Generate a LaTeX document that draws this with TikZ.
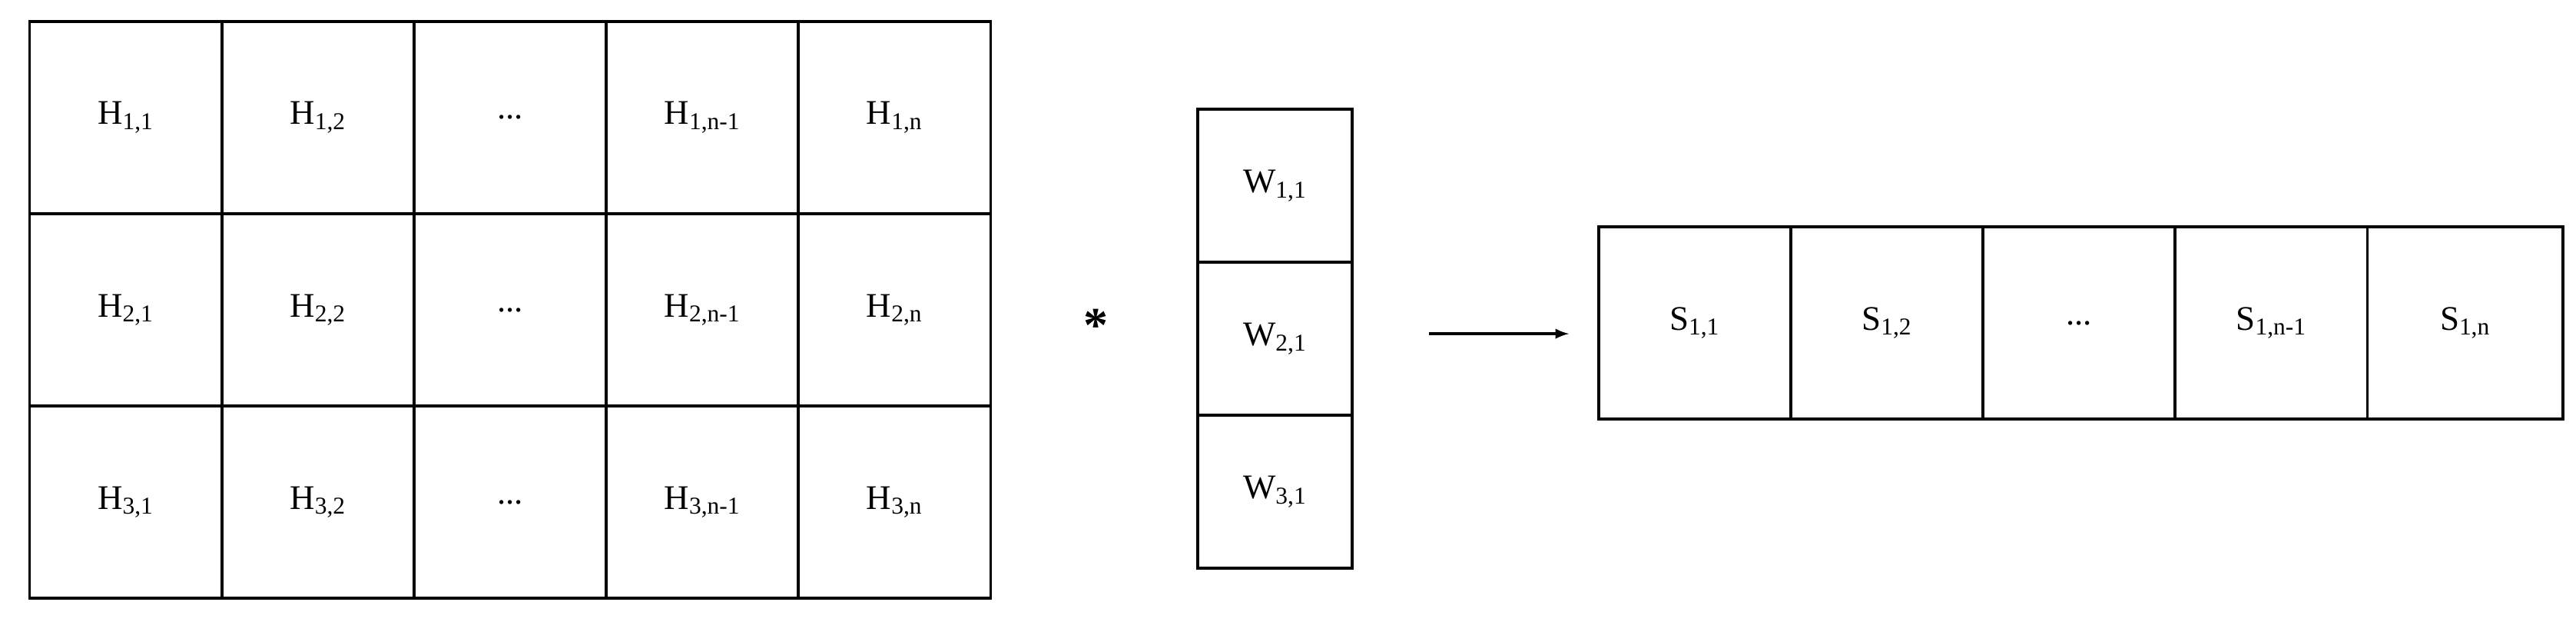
\documentclass[tikz,border=0pt]{standalone}
\usepackage{fontspec}
\setmainfont{Liberation Serif}
\begin{document}
\begin{tikzpicture}[x=1pt,y=-1pt,
  cell/.style={draw,line width=1.8pt,minimum width=117pt,minimum height=117pt,inner sep=0pt,font=\fontsize{21}{24}\selectfont},
  wcell/.style={draw,line width=1.8pt,minimum width=94pt,minimum height=93pt,inner sep=0pt,font=\fontsize{21}{24}\selectfont}]
\useasboundingbox (0,0) rectangle (1568,378);
\foreach \r in {1,2,3}{
  \node[cell] (h\r1) at (76.5,{13+117*(\r-1)+58.5}) {H\textsubscript{\r,1}};
  \node[cell] (h\r2) at (193.5,{13+117*(\r-1)+58.5}) {H\textsubscript{\r,2}};
  \node[cell] (h\r3) at (310.5,{13+117*(\r-1)+58.5}) {...};
  \node[cell] (h\r4) at (427.5,{13+117*(\r-1)+58.5}) {H\textsubscript{\r,n-1}};
  \node[cell] (h\r5) at (544.5,{13+117*(\r-1)+58.5}) {H\textsubscript{\r,n}};
}
\node[font=\fontsize{30}{30}\selectfont\bfseries] (star) at (667,198) {*};
\node[wcell] (w1) at (776,113) {W\textsubscript{1,1}};
\node[wcell] (w2) at (776,206) {W\textsubscript{2,1}};
\node[wcell] (w3) at (776,299) {W\textsubscript{3,1}};
\coordinate (a1) at (870,203);
\coordinate (a2) at (955,203);
\draw[line width=1.8pt,-latex] (a1) -- (a2);
\node[cell] (s1) at (1031.5,196.5) {S\textsubscript{1,1}};
\node[cell] (s2) at (1148.5,196.5) {S\textsubscript{1,2}};
\node[cell] (s3) at (1265.5,196.5) {...};
\node[cell] (s4) at (1382.5,196.5) {S\textsubscript{1,n-1}};
\node[cell,minimum width=119pt] (s5) at (1500.5,196.5) {S\textsubscript{1,n}};
\end{tikzpicture}
\end{document}
